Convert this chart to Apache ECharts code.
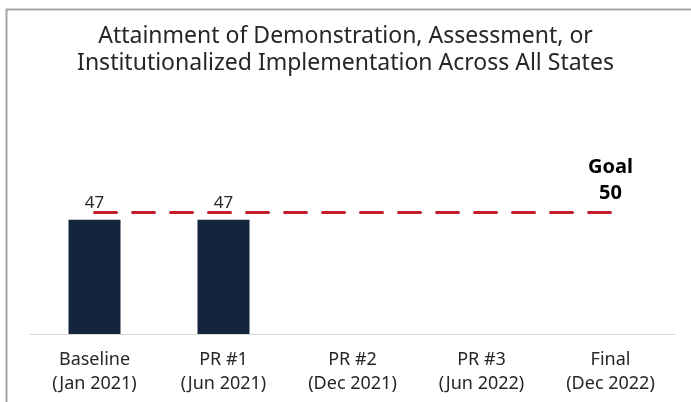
<!DOCTYPE html>
<html>
<head>
<meta charset="utf-8">
<script src="https://cdn.jsdelivr.net/npm/echarts@6/dist/echarts.min.js"></script>
<style>
  html, body { margin: 0; padding: 0; background: #fff; }
  #main { width: 691px; height: 402px; }
</style>
</head>
<body>
<div id="main"></div>
<script>
var categories = ['Baseline\n(Jan 2021)', 'PR #1\n(Jun 2021)', 'PR #2\n(Dec 2021)', 'PR #3\n(Jun 2022)', 'Final\n(Dec 2022)'];
var attained = [47, 47, null, null, null];
var goal = [50, 50, 50, 50, 50];
var goalLabel = 'Goal';

var myChart = echarts.init(document.getElementById('main'));
var fontFam = 'Noto Sans, sans-serif';

var option = {
    animation: false,
    title: {
        text: 'Attainment of Demonstration, Assessment, or\nInstitutionalized Implementation Across All States',
        left: 'center',
        top: 18,
        textStyle: {
            color: '#262626',
            fontSize: 23,
            fontWeight: 'normal',
            fontFamily: fontFam,
            lineHeight: 27
        }
    },
    graphic: [{
        type: 'polyline',
        shape: { points: [[6.5, 420], [6.5, 9.5], [700, 9.5]] },
        style: { stroke: '#a6a6a6', lineWidth: 2, fill: null },
        silent: true
    }],
    grid: {
        left: 30,
        right: 16,
        top: 91,
        bottom: 68
    },
    xAxis: {
        type: 'category',
        data: categories,
        axisLine: { show: true, lineStyle: { color: '#d9d9d9', width: 1 } },
        axisTick: { show: false },
        axisLabel: {
            color: '#262626',
            fontSize: 18,
            fontFamily: fontFam,
            lineHeight: 24,
            margin: 14
        }
    },
    yAxis: {
        type: 'value',
        min: 0,
        max: 100,
        show: false,
        splitLine: { show: false }
    },
    series: [
        {
            name: 'Attained',
            type: 'bar',
            data: attained,
            barWidth: 52,
            itemStyle: { color: '#12253c' },
            label: {
                show: true,
                position: 'top',
                distance: 8,
                color: '#262626',
                fontSize: 17,
                fontFamily: fontFam
            }
        },
        {
            name: 'Goal',
            type: 'line',
            data: goal,
            symbol: 'none',
            lineStyle: {
                color: '#c81f2d',
                width: 3,
                type: [22, 16],
                cap: 'round'
            },
            markPoint: {
                symbol: 'circle',
                symbolSize: 0,
                data: [{ coord: [4, 50], value: 50 }],
                label: {
                    show: true,
                    position: 'top',
                    distance: 6,
                    formatter: function (p) { return goalLabel + '\n' + p.value; },
                    color: '#000',
                    fontSize: 20,
                    fontWeight: 'bold',
                    fontFamily: fontFam,
                    lineHeight: 26
                }
            }
        }
    ]
};

myChart.setOption(option);
</script>
</body>
</html>
